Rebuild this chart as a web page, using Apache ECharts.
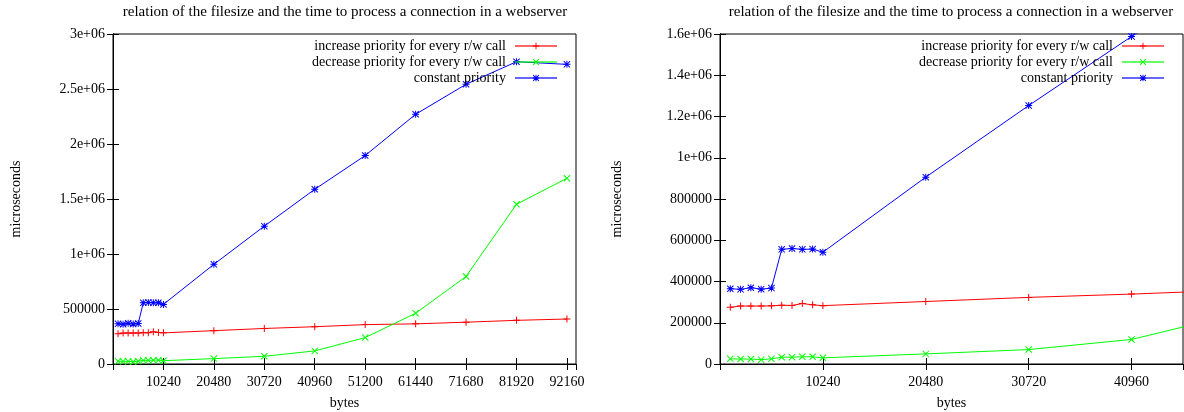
<!DOCTYPE html>
<html>
<head>
<meta charset="utf-8">
<script src="https://cdn.jsdelivr.net/npm/echarts@6/dist/echarts.min.js"></script>
<style>
html,body{margin:0;padding:0;background:#fff;}
#chart{width:1184px;height:412px;}
</style>
</head>
<body>
<div id="chart"></div>
<script>
// ---- data ----
var titleText = 'relation of the filesize and the time to process a connection in a webserver';
var seriesNames = ['increase priority for every r/w call', 'decrease priority for every r/w call', 'constant priority'];
var bytes = [1024, 2048, 3072, 4096, 5120, 6144, 7168, 8192, 9216, 10240, 20480, 30720, 40960, 51200, 61440, 71680, 81920, 92160];
var increasePriority = [275000, 281000, 281000, 281000, 282000, 285000, 284000, 293000, 287000, 283000, 303000, 323000, 339000, 358000, 365000, 380000, 397000, 409000];
var decreasePriority = [25000, 24000, 24000, 21000, 25000, 33000, 33000, 35000, 35000, 30000, 49000, 70000, 119000, 240000, 461000, 796000, 1452000, 1688000];
var constantPriority = [365000, 362000, 370000, 363000, 368000, 556000, 560000, 556000, 557000, 542000, 906000, 1253000, 1588000, 1895000, 2270000, 2543000, 2748000, 2724000];

var xTicksLeft = [10240, 20480, 30720, 40960, 51200, 61440, 71680, 81920, 92160];
var xLabelsLeft = ['10240', '20480', '30720', '40960', '51200', '61440', '71680', '81920', '92160'];
var yTicksLeft = [0, 500000, 1000000, 1500000, 2000000, 2500000, 3000000];
var yLabelsLeft = ['0', '500000', '1e+06', '1.5e+06', '2e+06', '2.5e+06', '3e+06'];
var xTicksRight = [10240, 20480, 30720, 40960];
var xLabelsRight = ['10240', '20480', '30720', '40960'];
var yTicksRight = [0, 200000, 400000, 600000, 800000, 1000000, 1200000, 1400000, 1600000];
var yLabelsRight = ['0', '200000', '400000', '600000', '800000', '1e+06', '1.2e+06', '1.4e+06', '1.6e+06'];
var xAxisName = 'bytes';
var yAxisName = 'microseconds';

// ---- styling ----
var FONT = 'Liberation Serif';
var colors = ['#ff0000', '#00ff00', '#0000ff'];
var PLUS = 'path://M3,0 H4 V3 H7 V4 H4 V7 H3 V4 H0 V3 H3 Z';
var CROSS = 'path://M0,0.7 L0.7,0 L3.5,2.8 L6.3,0 L7,0.7 L4.2,3.5 L7,6.3 L6.3,7 L3.5,4.2 L0.7,7 L0,6.3 L2.8,3.5 Z';
var STAR = 'path://M3,0 H4 V3 H7 V4 H4 V7 H3 V4 H0 V3 H3 Z M0,0.7 L0.7,0 L3.5,2.8 L6.3,0 L7,0.7 L4.2,3.5 L7,6.3 L6.3,7 L3.5,4.2 L0.7,7 L0,6.3 L2.8,3.5 Z';
var symbols = [PLUS, CROSS, STAR];
var symbolSizes = [7, 7, 7];
var seriesData = [increasePriority, decreasePriority, constantPriority];

function lookup(ticks, labels) {
  return function (v) {
    for (var i = 0; i < ticks.length; i++) if (Math.abs(ticks[i] - v) < 1e-6) return labels[i];
    return '';
  };
}

var grids = [
  {left: 113, right: 608, top: 34, bottom: 48},
  {left: 720, right: 1, top: 34, bottom: 48}
];
var xRanges = [[0, 94000, 10240], [0, 46080, 10240]];
var yRanges = [[0, 3000000, 500000], [0, 1600000, 200000]];
var xFmt = [lookup(xTicksLeft, xLabelsLeft), lookup(xTicksRight, xLabelsRight)];
var yFmt = [lookup(yTicksLeft, yLabelsLeft), lookup(yTicksRight, yLabelsRight)];
var yNameGap = [90, 96];
var titleCenters = [345, 951];
var legendRight = [626, 19];

var textBase = {fontFamily: FONT, fontSize: 14, color: '#000'};

var option = {
  animation: false,
  backgroundColor: '#fff',
  title: [], legend: [], grid: [], xAxis: [], yAxis: [], series: []
};

for (var g = 0; g < 2; g++) {
  option.grid.push({left: grids[g].left, right: grids[g].right, top: grids[g].top, bottom: grids[g].bottom,
    show: true, borderColor: '#000', borderWidth: 1, containLabel: false, outerBoundsMode: 'none'});
  option.title.push({text: titleText, left: titleCenters[g], top: 5, textAlign: 'center', padding: 0,
    textStyle: {fontFamily: FONT, fontSize: 15, fontWeight: 'normal', color: '#000'}});
  option.legend.push({
    orient: 'vertical', align: 'right', right: legendRight[g], top: 38, padding: 0,
    itemWidth: 42, itemHeight: 8, itemGap: 0,
    data: seriesNames,
    selectedMode: false,
    lineStyle: {width: 2, opacity: 0.6},
    textStyle: {fontFamily: FONT, fontSize: 14, color: '#000', lineHeight: 16, padding: [0, 4, 0, 0]}
  });
  var tickCommon = {show: true, inside: true, length: 6, lineStyle: {color: '#000', width: 1}};
  option.xAxis.push({
    type: 'value', gridIndex: g, position: 'bottom',
    min: xRanges[g][0], max: xRanges[g][1], interval: xRanges[g][2],
    axisLine: {show: true, lineStyle: {color: '#000', width: 1}},
    axisTick: tickCommon, splitLine: {show: false},
    axisLabel: {show: true, margin: 11, formatter: xFmt[g], fontFamily: FONT, fontSize: 14, color: '#000', showMaxLabel: false},
    name: xAxisName, nameLocation: 'middle', nameGap: 32, nameTextStyle: textBase
  });
  option.xAxis.push({
    type: 'value', gridIndex: g, position: 'top',
    min: xRanges[g][0], max: xRanges[g][1], interval: xRanges[g][2],
    axisLine: {show: true, lineStyle: {color: '#000', width: 1}},
    axisTick: tickCommon, splitLine: {show: false}, axisLabel: {show: false}
  });
  option.yAxis.push({
    type: 'value', gridIndex: g, position: 'left',
    min: yRanges[g][0], max: yRanges[g][1], interval: yRanges[g][2],
    axisLine: {show: true, lineStyle: {color: '#000', width: 1}},
    axisTick: tickCommon, splitLine: {show: false},
    axisLabel: {show: true, margin: 8, formatter: yFmt[g], fontFamily: FONT, fontSize: 14, color: '#000'},
    name: yAxisName, nameLocation: 'middle', nameGap: yNameGap[g], nameTextStyle: textBase
  });
  option.yAxis.push({
    type: 'value', gridIndex: g, position: 'right',
    min: yRanges[g][0], max: yRanges[g][1], interval: yRanges[g][2],
    axisLine: {show: true, lineStyle: {color: '#000', width: 1}},
    axisTick: tickCommon, splitLine: {show: false}, axisLabel: {show: false}
  });
  for (var s = 0; s < 3; s++) {
    var pts = [];
    for (var i = 0; i < bytes.length; i++) pts.push([bytes[i], seriesData[s][i]]);
    option.series.push({
      type: 'line', name: seriesNames[s],
      xAxisIndex: g * 2, yAxisIndex: g * 2,
      data: pts, clip: true,
      symbol: symbols[s], symbolSize: symbolSizes[s], showSymbol: true,
      lineStyle: {color: colors[s], width: 1},
      itemStyle: {color: colors[s]},
      emphasis: {disabled: true},
      silent: true
    });
  }
}

var chart = echarts.init(document.getElementById('chart'), null, {renderer: 'canvas'});
chart.setOption(option);
</script>
</body>
</html>
